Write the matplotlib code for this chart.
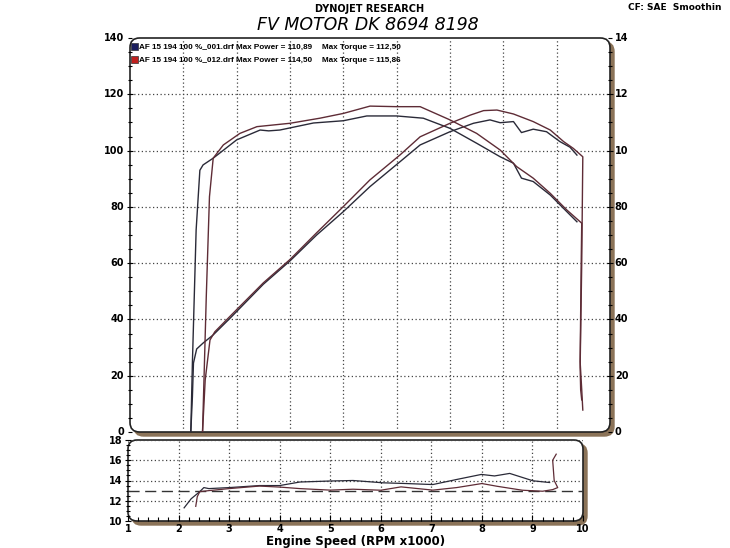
import numpy as np
import matplotlib.pyplot as plt
from matplotlib.patches import FancyBboxPatch, Rectangle
from matplotlib.ticker import MultipleLocator

# run 001 (blue) and run 012 (red): torque / power vs engine speed (x1000 rpm)
rpm_tq_001 = [2.14, 2.17, 2.24, 2.31, 2.37, 2.56, 3.0, 3.44, 3.6, 3.81, 4.44, 5.0, 5.44, 6.0,
              6.5, 7.0, 7.5, 7.94, 8.19, 8.34, 8.56, 8.88, 9.19, 9.38]
tq_001 = [0, 24.5, 71.8, 93.0, 94.9, 97.3, 103.8, 107.3, 107.0, 107.3, 109.8, 110.6, 112.3, 112.3,
          111.5, 107.9, 102.6, 97.8, 95.5, 90.2, 89.0, 84.2, 78.3, 74.7]

rpm_tq_012 = [2.36, 2.43, 2.49, 2.56, 2.75, 3.06, 3.38, 4.0, 4.56, 5.0, 5.5, 6.0, 6.44, 7.0,
              7.5, 7.94, 8.25, 8.56, 8.88, 9.19, 9.47, 9.46, 9.44, 9.47, 9.49]
tq_012 = [0, 48, 83.6, 97.3, 102, 106.1, 108.5, 109.7, 111.5, 113.2, 115.8, 115.6, 115.6, 110.9,
          106.1, 100.2, 94.3, 90.2, 84.8, 78.9, 74.2, 60, 25, 15, 7.8]

rpm_pw_001 = [2.14, 2.17, 2.19, 2.25, 2.37, 2.56, 2.88, 3.5, 4.0, 4.5, 5.0, 5.5, 6.06, 6.44,
              7.0, 7.44, 7.75, 7.94, 8.19, 8.34, 8.56, 8.81, 9.06, 9.25, 9.38]
pw_001 = [0, 12.5, 24.5, 29.5, 31.6, 34.5, 40.5, 52.5, 60.8, 70.0, 78.3, 87.2, 96.0, 102,
          106.7, 109.7, 110.9, 109.9, 110.3, 106.4, 107.6, 106.7, 103.2, 101.2, 98.4]

rpm_pw_012 = [2.36, 2.41, 2.5, 2.59, 2.88, 3.5, 4.0, 4.5, 5.0, 5.5, 6.06, 6.44, 7.0, 7.38,
              7.63, 7.88, 8.19, 8.56, 8.88, 9.13, 9.31, 9.49, 9.47, 9.44, 9.45, 9.47]
pw_012 = [0, 18.5, 32.7, 35.6, 41.2, 53.0, 61.3, 70.8, 80.1, 89.6, 98.4, 104.9, 109.7, 112.6,
          114.2, 114.4, 113.0, 110.3, 107.3, 103.2, 100.8, 97.8, 60, 23, 15, 11.4]

# air/fuel ratio
rpm_afr_001 = [2.11, 2.25, 2.42, 2.5, 2.6, 3.0, 3.6, 4.0, 4.4, 5.0, 5.45, 6.05, 6.5, 7.03,
               7.5, 7.99, 8.25, 8.55, 9.01, 9.34]
afr_001 = [11.3, 12.2, 12.9, 13.3, 13.2, 13.3, 13.5, 13.5, 13.85, 13.95, 14.0, 13.77, 13.7, 13.6,
           14.1, 14.6, 14.45, 14.7, 13.97, 13.8]

rpm_afr_012 = [2.34, 2.37, 2.42, 2.6, 3.0, 3.6, 4.0, 4.4, 5.0, 5.45, 6.0, 6.4, 7.03, 7.5,
               8.0, 8.3, 8.8, 9.2, 9.4, 9.5, 9.43, 9.4, 9.47]
afr_012 = [11.45, 12.4, 12.9, 13.0, 13.2, 13.45, 13.35, 13.2, 13.05, 13.14, 13.04, 13.37, 13.05, 13.3,
           13.7, 13.43, 13.04, 12.94, 13.1, 13.3, 14.0, 16.0, 16.6]
afr_target = 13.0

legend_rows = [('AF 15 194 100 %_001.drf Max Power = 110,89', 'Max Torque = 112,50', '#1c1f5e'),
               ('AF 15 194 100 %_012.drf Max Power = 114,50', 'Max Torque = 115,86', '#c0201e')]

c001 = '#2a2a38'
c012 = '#5e2c36'
brown = '#8b7358'

W, H = 730, 548
fig = plt.figure(figsize=(W / 100, H / 100), dpi=100)
fig.patch.set_facecolor('white')


def add_frame(ax, px_w, px_h):
    asp = px_w / px_h
    sh = FancyBboxPatch((4 / px_w, -4 / px_h), 1, 1, boxstyle='round,pad=0,rounding_size=0.02',
                        mutation_aspect=asp, transform=ax.transAxes, facecolor=brown,
                        edgecolor=brown, lw=1, zorder=-2)
    bx = FancyBboxPatch((0, 0), 1, 1, boxstyle='round,pad=0,rounding_size=0.02',
                        mutation_aspect=asp, transform=ax.transAxes, facecolor='white',
                        edgecolor='#222222', lw=1.2, zorder=-1)
    fig.patches.extend([sh, bx])
    ax.set_facecolor('none')
    for s in ax.spines.values():
        s.set_visible(False)


# main panel
ax = fig.add_axes([130 / W, 1 - 432 / H, 480 / W, 394 / H])
add_frame(ax, 480, 394)
ax.set_xlim(1, 10)
ax.set_ylim(0, 140)
ax.plot(rpm_tq_001, tq_001, color=c001, lw=1.0)
ax.plot(rpm_pw_001, pw_001, color=c001, lw=1.0)
ax.plot(rpm_tq_012, tq_012, color=c012, lw=1.0)
ax.plot(rpm_pw_012, pw_012, color=c012, lw=1.0)
ax.set_xticks(range(2, 10))
ax.set_yticks(range(20, 140, 20))
ax.grid(True, ls=(0, (1, 2)), color='#444444', lw=0.9)
ax.tick_params(axis='x', length=0, labelbottom=False)
ax.yaxis.set_minor_locator(MultipleLocator(5))
ax.tick_params(axis='y', which='both', direction='inout', length=5, width=0.8,
               left=True, right=True, labelleft=False)
ax.tick_params(axis='y', which='minor', length=3)
for v in range(0, 141, 20):
    ax.text(-0.012, v, str(v), transform=ax.get_yaxis_transform(), ha='right', va='center',
            fontsize=7, fontweight='bold')
    ax.text(1.01, v, str(v)[:2], transform=ax.get_yaxis_transform(), ha='left', va='center',
            fontsize=7, fontweight='bold')

for i, (name, torque, col) in enumerate(legend_rows):
    yy = (432 - 47 - 13 * i) / 394
    ax.add_patch(Rectangle((0.003, yy - 0.008), 0.013, 0.017, transform=ax.transAxes,
                           facecolor=col, edgecolor='#333333', lw=0.5, clip_on=False))
    ax.text(0.018, yy, name, transform=ax.transAxes, va='center', fontsize=5.9,
            fontweight='bold', family='Liberation Sans')
    ax.text(0.40, yy, torque, transform=ax.transAxes, va='center', fontsize=5.9,
            fontweight='bold', family='Liberation Sans')

# AFR panel
ax2 = fig.add_axes([128 / W, 1 - 521 / H, 455 / W, 81 / H])
add_frame(ax2, 455, 81)
ax2.set_xlim(1, 10)
ax2.set_ylim(10, 18)
ax2.axhline(afr_target, color='#333333', lw=1.0, ls=(0, (8, 4)))
ax2.plot(rpm_afr_001, afr_001, color=c001, lw=0.9)
ax2.plot(rpm_afr_012, afr_012, color=c012, lw=0.9)
ax2.set_xticks(range(1, 11))
ax2.set_yticks(range(10, 19, 2))
ax2.grid(True, ls=(0, (1, 2)), color='#444444', lw=0.9)
ax2.xaxis.set_minor_locator(MultipleLocator(0.2))
ax2.yaxis.set_minor_locator(MultipleLocator(0.5))
ax2.tick_params(axis='x', which='both', direction='in', length=4, width=0.8, pad=2,
                labelsize=7)
ax2.tick_params(axis='y', which='both', direction='inout', length=4, width=0.8, pad=2,
                labelsize=7)
ax2.tick_params(which='minor', length=3)
for lab in ax2.get_xticklabels() + ax2.get_yticklabels():
    lab.set_fontweight('bold')
ax2.set_xlabel('Engine Speed (RPM x1000)', fontsize=8.5, fontweight='bold', labelpad=1)

fig.text(370 / W, 1 - 9 / H, 'DYNOJET RESEARCH', ha='center', va='center', fontsize=7,
         fontweight='bold')
fig.text(368 / W, 1 - 25 / H, 'FV MOTOR DK 8694 8198', ha='center', va='center', fontsize=12.5,
         style='italic')
fig.text(628 / W, 1 - 7 / H, 'CF: SAE  Smoothin', ha='left', va='center', fontsize=6.5,
         fontweight='bold')

fig.savefig('out.png', dpi=100)
